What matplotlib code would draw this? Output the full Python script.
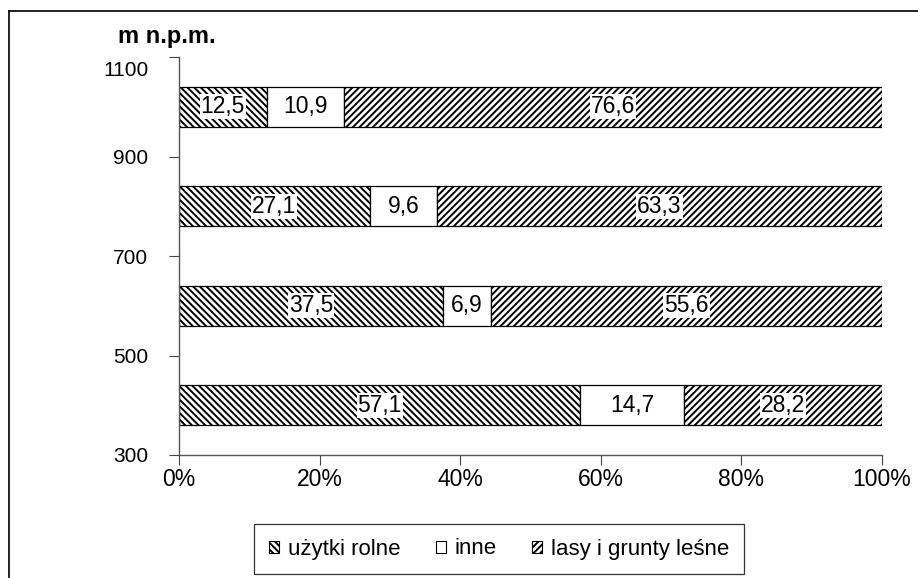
import numpy as np
import matplotlib
matplotlib.use("Agg")
import matplotlib.pyplot as plt
import matplotlib.transforms as mtransforms
from matplotlib.patches import Patch
from matplotlib.lines import Line2D

# udział form użytkowania w pasach wysokości
heights = [400, 600, 800, 1000]
rolne = [57.1, 37.5, 27.1, 12.5]
inne = [14.7, 6.9, 9.6, 10.9]
lasy = [28.2, 55.6, 63.3, 76.6]
names = ['użytki rolne', 'inne', 'lasy i grunty leśne']
hatches = ['\\\\\\\\\\', '', '/////']

plt.rcParams['font.family'] = ['Liberation Sans', 'DejaVu Sans']
plt.rcParams['hatch.linewidth'] = 1.4

W, H = 918, 578
fig = plt.figure(figsize=(W/100, H/100), dpi=100)
ax = fig.add_axes([179/W, 1-455/H, (882-179)/W, (455-57)/H])

left = np.zeros(len(heights))
for vals, hatch in zip([rolne, inne, lasy], hatches):
    vals = np.array(vals)
    ax.barh(heights, vals, height=80, left=left, color='white',
            edgecolor='black', linewidth=0.9, hatch=hatch)
    for y, l, v in zip(heights, left, vals):
        ax.text(l + v/2, y, f'{v:.1f}'.replace('.', ','), ha='center', va='center',
                fontsize=16.5, bbox=dict(facecolor='white', edgecolor='none', pad=0.6))
    left += vals

ax.set_xlim(0, 100)
ax.set_ylim(300, 1100)
ax.set_xticks(range(0, 101, 20))
ax.set_xticklabels([f'{t}%' for t in range(0, 101, 20)])
ax.set_yticks(range(300, 1101, 200))
ax.tick_params(axis='x', labelsize=16.5, length=7, width=0.8, pad=2, color='#444444')
ax.tick_params(axis='y', labelsize=15, length=7, width=0.8, pad=15, color='#444444')
for s in ['top', 'right']:
    ax.spines[s].set_visible(False)
for s in ['left', 'bottom']:
    ax.spines[s].set_color('#555555')
    ax.spines[s].set_linewidth(1.0)

# górna etykieta osi nieco niżej, pod tytułem
top_lab = ax.get_yticklabels()[-1]
top_lab.set_transform(top_lab.get_transform() +
                      mtransforms.ScaledTranslation(0, -12/100, fig.dpi_scale_trans))

fig.text(167/W, 1-37/H, 'm n.p.m.', fontsize=17, fontweight='bold',
         ha='center', va='center')

handles = [Patch(facecolor='white', edgecolor='black', hatch=h, linewidth=0.8) for h in hatches]
leg = fig.legend(handles, names, loc='center', ncol=3,
                 bbox_to_anchor=(499/W, 1-549/H), fontsize=16, frameon=True,
                 fancybox=False, edgecolor='black', handlelength=0.45, handleheight=0.45,
                 handletextpad=0.4, columnspacing=1.6, borderpad=0.65, borderaxespad=0)
leg.get_frame().set_linewidth(0.9)

# ramka wykresu
fig.add_artist(Line2D([9/W, 9/W], [0, 1-11/H], color='black', lw=1.2))
fig.add_artist(Line2D([9/W, 1], [1-11/H, 1-11/H], color='black', lw=1.2))

fig.savefig('out.png', dpi=100)
